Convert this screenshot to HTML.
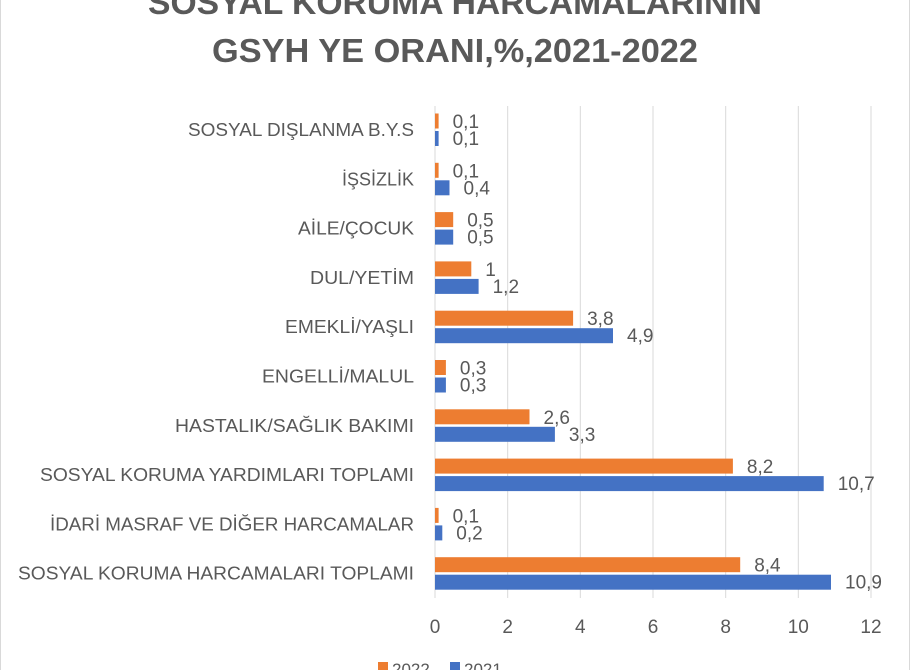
<!DOCTYPE html>
<html><head><meta charset="utf-8"><style>
body{margin:0;background:#fff;}
svg{display:block;font-family:"Liberation Sans",sans-serif;}
</style></head><body>
<svg width="911" height="670" viewBox="0 0 911 670">
<rect x="0.5" y="-5" width="909" height="700" fill="#fff" stroke="#d9d9d9"/>
<g fill="#595959" font-weight="bold" font-size="33" text-anchor="middle">
<text x="455" y="14" textLength="614" lengthAdjust="spacingAndGlyphs">SOSYAL KORUMA HARCAMALARININ</text>
<text x="455" y="62" textLength="486" lengthAdjust="spacingAndGlyphs">GSYH YE ORANI,%,2021-2022</text>
</g>
<g stroke="#d9d9d9" stroke-width="1">
<line x1="435" y1="106" x2="435" y2="598"/><line x1="507.7" y1="106" x2="507.7" y2="598"/>
<line x1="580.3" y1="106" x2="580.3" y2="598"/><line x1="653" y1="106" x2="653" y2="598"/>
<line x1="725.7" y1="106" x2="725.7" y2="598"/><line x1="798.3" y1="106" x2="798.3" y2="598"/>
<line x1="871" y1="106" x2="871" y2="598"/>
</g>
<g fill="#595959" font-size="19" text-anchor="middle">
<text x="435" y="633">0</text><text x="507.7" y="633">2</text><text x="580.3" y="633">4</text>
<text x="653" y="633">6</text><text x="725.7" y="633">8</text><text x="798.3" y="633">10</text><text x="871" y="633">12</text>
</g>
<g font-size="18" fill="#595959" text-anchor="end" lengthAdjust="spacingAndGlyphs">
<text x="414" y="136" textLength="226" lengthAdjust="spacingAndGlyphs">SOSYAL DIŞLANMA B.Y.S</text>
<text x="414" y="185.3" textLength="72" lengthAdjust="spacingAndGlyphs">İŞSİZLİK</text>
<text x="414" y="234.6" textLength="116" lengthAdjust="spacingAndGlyphs">AİLE/ÇOCUK</text>
<text x="414" y="283.9" textLength="104" lengthAdjust="spacingAndGlyphs">DUL/YETİM</text>
<text x="414" y="333.2" textLength="129" lengthAdjust="spacingAndGlyphs">EMEKLİ/YAŞLI</text>
<text x="414" y="382.5" textLength="152" lengthAdjust="spacingAndGlyphs">ENGELLİ/MALUL</text>
<text x="414" y="431.8" textLength="239" lengthAdjust="spacingAndGlyphs">HASTALIK/SAĞLIK BAKIMI</text>
<text x="414" y="481.1" textLength="374" lengthAdjust="spacingAndGlyphs">SOSYAL KORUMA YARDIMLARI TOPLAMI</text>
<text x="414" y="530.4" textLength="364" lengthAdjust="spacingAndGlyphs">İDARİ MASRAF VE DİĞER HARCAMALAR</text>
<text x="414" y="579.7" textLength="396" lengthAdjust="spacingAndGlyphs">SOSYAL KORUMA HARCAMALARI TOPLAMI</text>
</g>
<g fill="#ed7d31">
<rect x="435" y="113.5" width="3.6" height="15"/>
<rect x="435" y="162.8" width="3.6" height="15"/>
<rect x="435" y="212.1" width="18.2" height="15"/>
<rect x="435" y="261.4" width="36.3" height="15"/>
<rect x="435" y="310.7" width="138.1" height="15"/>
<rect x="435" y="360" width="10.9" height="15"/>
<rect x="435" y="409.3" width="94.5" height="15"/>
<rect x="435" y="458.6" width="297.9" height="15"/>
<rect x="435" y="507.9" width="3.6" height="15"/>
<rect x="435" y="557.2" width="305.2" height="15"/>
</g>
<g fill="#4472c4">
<rect x="435" y="131" width="3.6" height="15"/>
<rect x="435" y="180.3" width="14.5" height="15"/>
<rect x="435" y="229.6" width="18.2" height="15"/>
<rect x="435" y="278.9" width="43.6" height="15"/>
<rect x="435" y="328.2" width="178" height="15"/>
<rect x="435" y="377.5" width="10.9" height="15"/>
<rect x="435" y="426.8" width="119.9" height="15"/>
<rect x="435" y="476.1" width="388.7" height="15"/>
<rect x="435" y="525.4" width="7.3" height="15"/>
<rect x="435" y="574.7" width="396" height="15"/>
</g>
<g font-size="19" fill="#595959">
<text x="452.6" y="128">0,1</text><text x="452.6" y="145">0,1</text>
<text x="452.6" y="177.3">0,1</text><text x="463.5" y="194.3">0,4</text>
<text x="467.2" y="226.6">0,5</text><text x="467.2" y="243.6">0,5</text>
<text x="485.3" y="275.9">1</text><text x="492.6" y="292.9">1,2</text>
<text x="587.1" y="325.2">3,8</text><text x="627" y="342.2">4,9</text>
<text x="459.9" y="374.5">0,3</text><text x="459.9" y="391.5">0,3</text>
<text x="543.5" y="423.8">2,6</text><text x="568.9" y="440.8">3,3</text>
<text x="746.9" y="473.1">8,2</text><text x="837.7" y="490.1">10,7</text>
<text x="452.6" y="522.4">0,1</text><text x="456.3" y="539.4">0,2</text>
<text x="754.2" y="571.7">8,4</text><text x="845" y="588.7">10,9</text>
</g>
<g font-size="17" fill="#595959">
<rect x="378" y="662" width="10" height="10" fill="#ed7d31"/><text x="392" y="675">2022</text>
<rect x="450" y="662" width="10" height="10" fill="#4472c4"/><text x="464" y="675">2021</text>
</g>
</svg>
</body></html>
